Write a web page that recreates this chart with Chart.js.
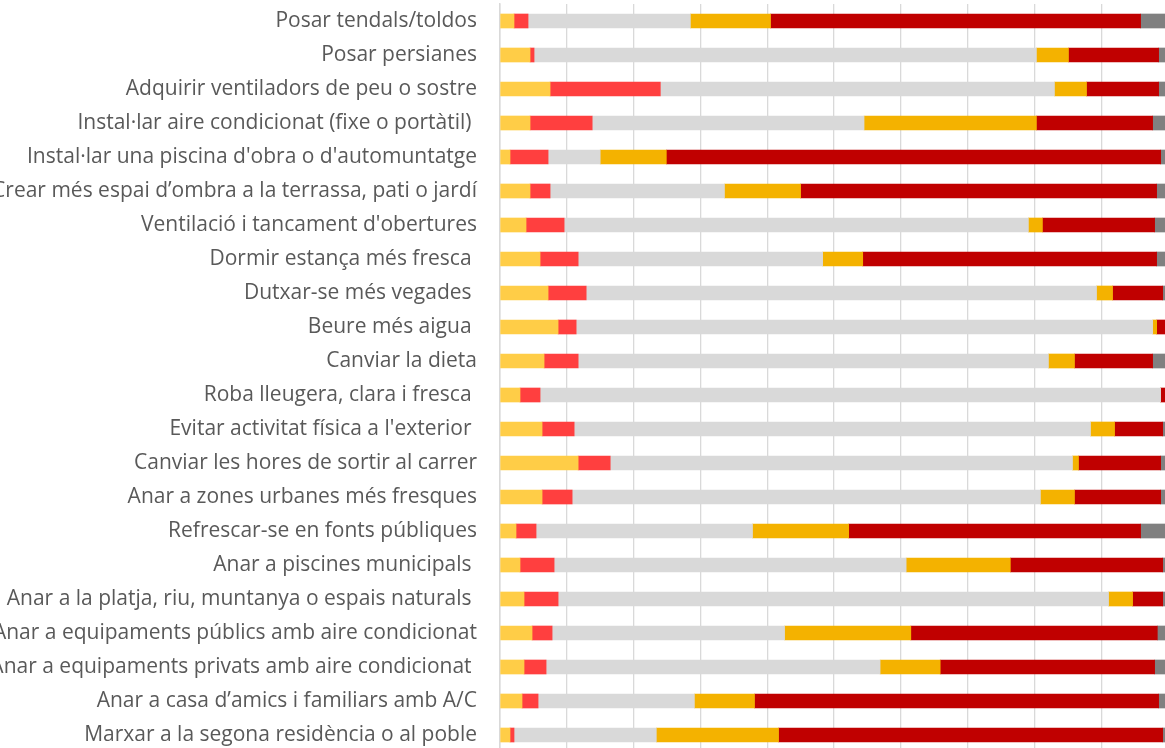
<!DOCTYPE html>
<html>
<head>
<meta charset="utf-8">
<script src="https://cdn.jsdelivr.net/npm/chart.js@4"></script>
<style>
  html, body { margin: 0; padding: 0; background: #fff; overflow: hidden; }
  #wrap { width: 1170px; height: 760px; }
</style>
</head>
<body>
<div id="wrap"><canvas id="accionsChart" width="1170" height="760"></canvas></div>
<script>
// Categories (top to bottom)
const accions = [
    'Posar tendals/toldos',
    'Posar persianes',
    'Adquirir ventiladors de peu o sostre',
    'Instal·lar aire condicionat (fixe o portàtil) ',
    "Instal·lar una piscina d'obra o d'automuntatge",
    'Crear més espai d’ombra a la terrassa, pati o jardí',
    "Ventilació i tancament d'obertures",
    'Dormir estança més fresca ',
    'Dutxar-se més vegades ',
    'Beure més aigua ',
    'Canviar la dieta',
    'Roba lleugera, clara i fresca ',
    "Evitar activitat física a l'exterior ",
    'Canviar les hores de sortir al carrer',
    'Anar a zones urbanes més fresques',
    'Refrescar-se en fonts públiques',
    'Anar a piscines municipals ',
    'Anar a la platja, riu, muntanya o espais naturals ',
    'Anar a equipaments públics amb aire condicionat',
    'Anar a equipaments privats amb aire condicionat ',
    'Anar a casa d’amics i familiars amb A/C',
    'Marxar a la segona residència o al poble'
];

// Series values (% of answers)
const serieA = [2.1, 4.5, 7.5, 4.5, 1.5, 4.5, 3.9, 6.0, 7.2, 8.7, 6.6, 3.0, 6.3, 11.7, 6.3, 2.4, 3.0, 3.6, 4.8, 3.6, 3.3, 1.5];
const serieB = [2.1, 0.6, 16.5, 9.3, 5.7, 3.0, 5.7, 5.7, 5.7, 2.7, 5.1, 3.0, 4.8, 4.8, 4.5, 3.0, 5.1, 5.1, 3.0, 3.3, 2.4, 0.6];
const serieC = [24.3, 75.2, 59.0, 40.7, 7.8, 26.1, 69.5, 36.6, 76.4, 86.3, 70.4, 92.9, 77.3, 69.2, 70.1, 32.4, 52.7, 82.4, 34.8, 50.0, 23.4, 21.3];
const serieD = [12.0, 4.8, 4.8, 25.8, 9.9, 11.4, 2.1, 6.0, 2.4, 0.6, 3.9, 0, 3.6, 0.9, 5.1, 14.4, 15.6, 3.6, 18.9, 9.0, 9.0, 18.3];
const serieE = [55.4, 13.5, 10.8, 17.4, 74.0, 53.3, 16.8, 44.0, 7.5, 1.7, 11.7, 1.1, 7.2, 12.3, 12.9, 43.7, 22.8, 4.5, 36.9, 32.1, 60.5, 57.5];
const serieF = [4.1, 1.4, 1.4, 2.3, 1.1, 1.7, 2.0, 1.7, 0.7, 0, 2.3, 0, 0.8, 1.1, 1.1, 4.1, 0.8, 0.8, 1.6, 2.0, 1.4, 0.8];

const serieNames = ['Sí, ja ho feia', 'Sí, per primer cop', 'No, no ho necessito', 'No, no puc', 'No ho faig', 'NS/NC'];
const serieColors = ['#FFCD47', '#FF3F3F', '#D9D9D9', '#F4B200', '#C00000', '#808080'];
const serieData = [serieA, serieB, serieC, serieD, serieE, serieF];

const ctx = document.getElementById('accionsChart').getContext('2d');

new Chart(ctx, {
    type: 'bar',
    data: {
        labels: accions,
        datasets: serieData.map((d, i) => ({
            label: serieNames[i],
            data: d,
            backgroundColor: serieColors[i],
            borderWidth: 0,
            barThickness: 14
        }))
    },
    options: {
        indexAxis: 'y',
        responsive: false,
        animation: false,
        devicePixelRatio: 1,
        layout: { padding: { top: 4, bottom: 8, right: 2, left: 0 } },
        plugins: {
            legend: { display: false },
            tooltip: { enabled: false }
        },
        scales: {
            x: {
                stacked: true,
                min: 0,
                max: 100,
                ticks: { display: false, stepSize: 10 },
                grid: { color: '#D9D9D9', lineWidth: 1.3, drawTicks: false },
                border: { display: false }
            },
            y: {
                stacked: true,
                grid: { display: false, drawTicks: false },
                border: { color: '#D9D9D9', width: 1.5 },
                ticks: {
                    color: '#595959',
                    padding: 23,
                    autoSkip: false,
                    font: { family: '"Open Sans"', size: 21 }
                },
                afterFit: scale => {
                    scale.width = 500;
                    // label padding should not shrink the plot vertically
                    scale.paddingTop = 0;
                    scale.paddingBottom = 0;
                }
            }
        }
    }
});
</script>
</body>
</html>
